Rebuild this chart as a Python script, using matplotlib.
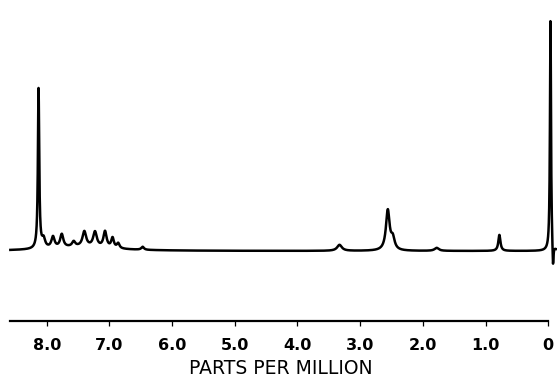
import numpy as np
import matplotlib
matplotlib.use("Agg")
import matplotlib.pyplot as plt

# Peak list: position (ppm), height (arb.), width (ppm)
peak_ppm = [8.13, 8.05, 7.90, 7.76, 7.57, 7.40, 7.23, 7.07, 6.95, 6.86, 6.47,
            3.33, 2.56, 2.48, 1.78, 0.78, -0.035, -0.075]
peak_height = [160, 9, 11, 13, 5, 15, 15, 16, 10, 5, 3,
               6, 40, 11, 3, 16, 232, -26]
peak_width = [0.025, 0.06, 0.06, 0.06, 0.06, 0.07, 0.07, 0.06, 0.05, 0.05, 0.05,
              0.09, 0.07, 0.07, 0.08, 0.04, 0.02, 0.02]
# broad aromatic envelope
hump_ppm = [7.45]
hump_height = [4]
hump_width = [1.2]

tick_values = [8, 7, 6, 5, 4, 3, 2, 1, 0]
tick_labels = ["8.0", "7.0", "6.0", "5.0", "4.0", "3.0", "2.0", "1.0", "0"]

ppm = np.linspace(8.58, -0.12, 6000)
signal = np.zeros_like(ppm)
for p, h, w in zip(peak_ppm + hump_ppm, peak_height + hump_height, peak_width + hump_width):
    signal += h / (1 + ((ppm - p) / (w / 2)) ** 2)

W, H = 557, 379
fig = plt.figure(figsize=(W / 100, H / 100), dpi=100)
bottom_px = 320.7
ax = fig.add_axes([0, (H - bottom_px) / H, 1, bottom_px / H])
ax.plot(ppm, signal, color="black", lw=1.8, solid_joinstyle="round")
ax.set_xlim(8.745, -0.139)
ax.set_ylim(-(bottom_px - 251), 251)

for s in ["top", "left", "right"]:
    ax.spines[s].set_visible(False)
ax.spines["bottom"].set_bounds(8.58, 0)
ax.spines["bottom"].set_linewidth(1.6)
ax.set_yticks([])
ax.set_xticks(tick_values)
ax.set_xticklabels(tick_labels, fontsize=11.5, fontweight="bold", family="DejaVu Sans")
ax.tick_params(axis="x", direction="out", length=3.8, width=0.9, pad=8.5)
ax.set_xlabel("PARTS PER MILLION", fontsize=13.5, family="DejaVu Sans")
ax.xaxis.set_label_coords(281 / W, -0.118)
ax.patch.set_visible(False)

fig.savefig("out.png", dpi=100)
